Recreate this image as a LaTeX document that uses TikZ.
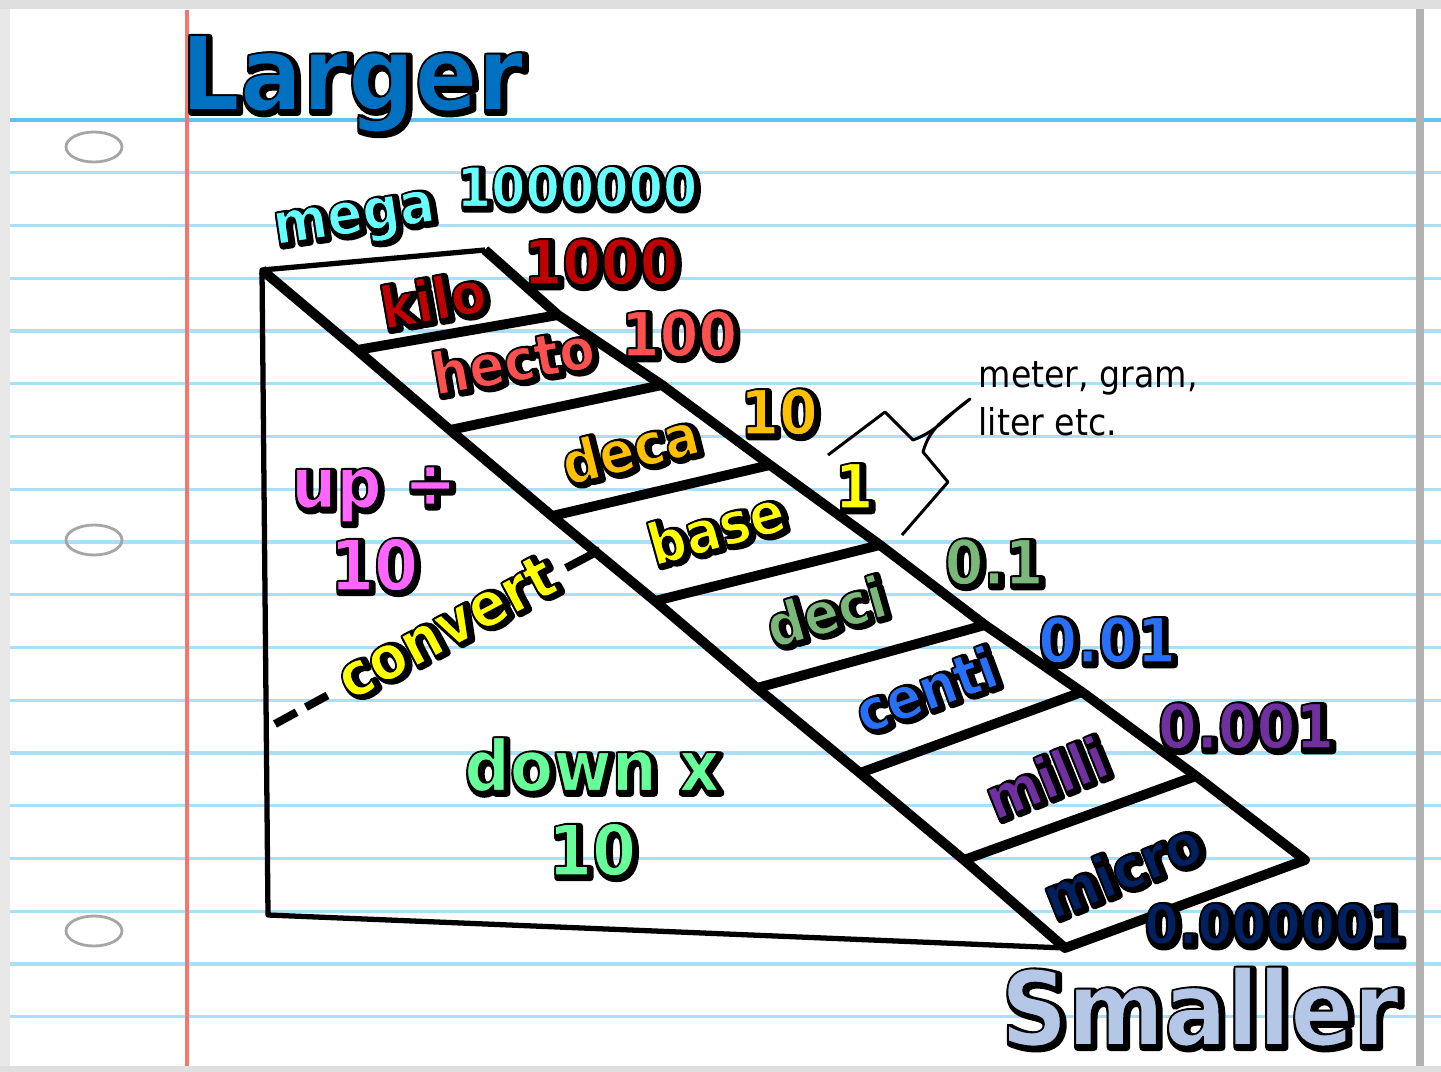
\documentclass[tikz,border=0pt]{standalone}
\usepackage{fontspec}
\setmainfont{DejaVu Sans}[FakeStretch=0.9]
\usepackage{xcolor}
\usepackage{tikz}

\definecolor{ruleblue}{RGB}{170,224,247}
\definecolor{ruletop}{RGB}{95,195,238}
\definecolor{marginred}{RGB}{240,120,110}
\definecolor{megacol}{RGB}{102,255,255}
\definecolor{kilocol}{RGB}{192,0,0}
\definecolor{hectocol}{RGB}{255,80,80}
\definecolor{decacol}{RGB}{255,192,0}
\definecolor{basecol}{RGB}{255,255,0}
\definecolor{decicol}{RGB}{122,184,122}
\definecolor{centicol}{RGB}{40,112,250}
\definecolor{millicol}{RGB}{112,48,160}
\definecolor{microcol}{RGB}{0,32,96}
\definecolor{upcol}{RGB}{255,102,255}
\definecolor{downcol}{RGB}{102,255,153}
\definecolor{largercol}{RGB}{0,112,192}
\definecolor{smallercol}{RGB}{180,199,231}

% outlined text with a drop shadow
\newcommand{\shadowed}[2]{%
  \rlap{\kern0.7pt\raisebox{-0.7pt}{\color{black}\special{pdf:literal direct 2 Tr 2 w 1 j}#2\special{pdf:literal direct 0 Tr}}}%
  {\color{#1}\special{pdf:literal direct 0 G 2 Tr 0.5 w 1 j}#2\special{pdf:literal direct 0 Tr}}}

\tikzset{
  ruleline/.style={draw=ruleblue, line width=0.9pt},
  margin/.style={draw=marginred, line width=0.9pt},
  hole/.style={draw=gray!70, line width=0.8pt},
  thinedge/.style={line width=1.5pt, line join=round},
  thickedge/.style={line width=2.8pt, line join=round},
  unitlab/.style={inner sep=0pt, font=\fontsize{16.5}{18}\selectfont\bfseries},
  numlab/.style={inner sep=0pt, font=\fontsize{17.6}{19}\selectfont\bfseries},
  hintlab/.style={inner sep=0pt, align=center, font=\fontsize{20}{23.5}\selectfont\bfseries},
  bigword/.style={inner sep=0pt, font=\fontsize{29.3}{31}\selectfont\bfseries},
}

\begin{document}
\begin{tikzpicture}[x=0.01cm, y=-0.01cm]
    \useasboundingbox (0,0) rectangle (1441,1072);
    \fill[white] (0,0) rectangle (1441,1072);

    % Notebook paper
    \foreach \k in {0,...,17}
        \draw[ruleline] (10,{120+52.75*\k}) -- (1441,{120+52.75*\k});
    \draw[ruleline, draw=ruletop] (10,120) -- (1441,120);
    \draw[margin] (187,10) -- (187,1068);
    \foreach \y in {147,540,931}
        \draw[hole] (94,\y) ellipse [x radius=28, y radius=15];
    \fill[gray!18] (0,0) rectangle (10,1072);
    \fill[gray!25] (0,0) rectangle (1441,9);
    \fill[gray!25] (0,1066) rectangle (1441,1072);
    \fill[gray!60] (1416,9) rectangle (1424,1066);

    % Ramp corners
    \coordinate (l0) at (262,270); \coordinate (r0) at (485,250);
    \coordinate (l1) at (357,350); \coordinate (r1) at (558,315);
    \coordinate (l2) at (450,430); \coordinate (r2) at (662,385);
    \coordinate (l3) at (552,516); \coordinate (r3) at (770,465);
    \coordinate (l4) at (655,601); \coordinate (r4) at (880,545);
    \coordinate (l5) at (757,688); \coordinate (r5) at (985,625);
    \coordinate (l6) at (860,773); \coordinate (r6) at (1082,692);
    \coordinate (l7) at (964,860); \coordinate (r7) at (1196,776);
    \coordinate (l8) at (1065,948); \coordinate (r8) at (1305,860);
    \coordinate (foot) at (268,915);

    % Ramp
    \draw[thinedge] (r0) -- (l0) -- (foot) -- (l8);
    \draw[thickedge] (l0) -- (l1) -- (l2) -- (l3) -- (l4) -- (l5) -- (l6) -- (l7) -- (l8)
        -- (r8) -- (r7) -- (r6) -- (r5) -- (r4) -- (r3) -- (r2) -- (r1) -- (r0);
    \foreach \i in {1,...,7}
        \draw[thickedge] (l\i) -- (r\i);

    % Convert line
    \coordinate (c1) at (275,724); \coordinate (c2) at (330,694);
    \coordinate (c3) at (566,568); \coordinate (c4) at (600,550);
    \draw[line width=2.3pt, dash pattern=on 7pt off 3pt] (c1) -- (c2);
    \draw[line width=2.3pt] (c3) -- (c4);

    % Brace to the base units
    \coordinate (b1) at (828,455); \coordinate (b2) at (885,412);
    \coordinate (b3) at (913,440); \coordinate (b4) at (970,399);
    \coordinate (b5) at (923,452); \coordinate (b6) at (948,482);
    \coordinate (b7) at (902,535);
    \draw[line width=0.85pt, line join=round] (b1) -- (b2) -- (b3) to[out=20, in=215] (b4)
        to[out=220, in=75] (b5) -- (b6) -- (b7);
    \node[anchor=west, align=left, inner sep=0pt, font=\fontsize{10.5}{13.7}\selectfont] (units)
        at (978,399) {meter, gram,\\liter etc.};

    % Prefixes
    \node[unitlab, rotate=8.5] (mega) at (355,224) {\shadowed{megacol}{mega}};
    \node[unitlab, rotate=10] (kilo) at (433,300) {\shadowed{kilocol}{kilo}};
    \node[unitlab, rotate=10] (hecto) at (513,361) {\shadowed{hectocol}{hecto}};
    \node[unitlab, rotate=14] (deca) at (630,449) {\shadowed{decacol}{deca}};
    \node[unitlab, rotate=15.5] (base) at (716,528) {\shadowed{basecol}{base}};
    \node[unitlab, rotate=16] (deci) at (826,612) {\shadowed{decicol}{deci}};
    \node[unitlab, rotate=20] (centi) at (926,690) {\shadowed{centicol}{centi}};
    \node[unitlab, rotate=22] (milli) at (1046,778) {\shadowed{millicol}{milli}};
    \node[unitlab, rotate=22] (micro) at (1122,870) {\shadowed{microcol}{micro}};

    % Factors
    \node[unitlab, font=\fontsize{15.6}{17}\selectfont\bfseries] (f6) at (577,188) {\shadowed{megacol}{1000000}};
    \node[numlab] (f3) at (601,263) {\shadowed{kilocol}{1000}};
    \node[numlab] (f2) at (679,335) {\shadowed{hectocol}{100}};
    \node[numlab] (f1) at (779,413) {\shadowed{decacol}{10}};
    \node[numlab] (f0) at (854,487) {\shadowed{basecol}{1}};
    \node[numlab] (fm1) at (994,563) {\shadowed{decicol}{0.1}};
    \node[numlab] (fm2) at (1107,641) {\shadowed{centicol}{0.01}};
    \node[numlab] (fm3) at (1246,727) {\shadowed{millicol}{0.001}};
    \node[unitlab, font=\fontsize{15.6}{17}\selectfont\bfseries] (fm6) at (1274,925) {\shadowed{microcol}{0.000001}};

    % Hints
    \node[hintlab] (up) at (374,530) {\shadowed{upcol}{up ÷}\\\shadowed{upcol}{10}};
    \node[hintlab, font=\fontsize{20}{24}\selectfont\bfseries] (down) at (592,808) {\shadowed{downcol}{down x}\\\shadowed{downcol}{10}};
    \node[unitlab, font=\fontsize{17.5}{19}\selectfont\bfseries, rotate=28] (convert) at (446,628) {\shadowed{basecol}{convert}};

    % Titles
    \node[bigword, anchor=base west] (larger) at (180,110) {\shadowed{largercol}{Larger}};
    \node[bigword, anchor=base west] (smaller) at (1000,1045) {\shadowed{smallercol}{Smaller}};
\end{tikzpicture}
\end{document}
